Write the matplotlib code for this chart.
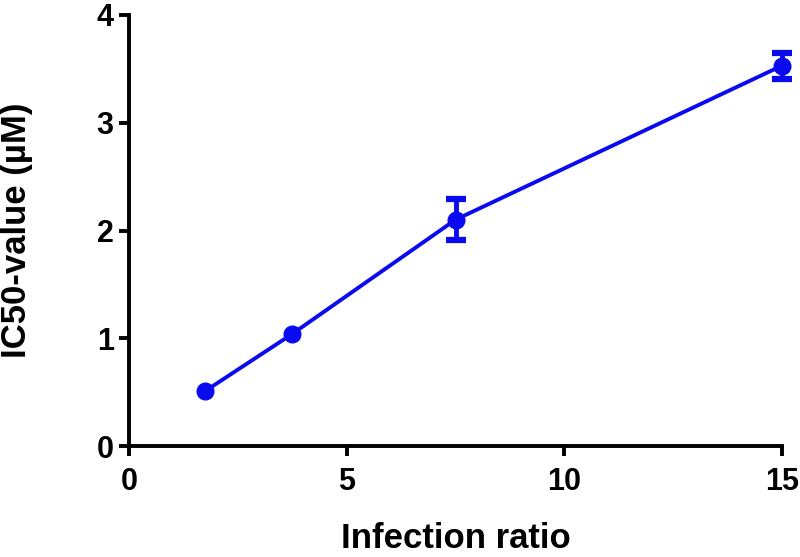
import matplotlib
matplotlib.use("Agg")
import matplotlib.pyplot as plt

infection_ratio = [1.75, 3.75, 7.5, 15]
ic50 = [0.51, 1.04, 2.10, 3.53]
ic50_err = [0.0, 0.0, 0.19, 0.12]
x_ticks = [0, 5, 10, 15]
y_ticks = [0, 1, 2, 3, 4]

plt.rcParams['font.family'] = ['Liberation Sans', 'DejaVu Sans']
fig = plt.figure(figsize=(8, 5.57), dpi=100)
ax = fig.add_axes([129/800, 111/557, (782-129)/800, (446-15)/557])

color = '#0a0af0'
ax.plot(infection_ratio, ic50, color=color, lw=2.8, marker='o', ms=12,
        clip_on=False, zorder=3)
ex = [x for x, e in zip(infection_ratio, ic50_err) if e > 0]
ey = [y for y, e in zip(ic50, ic50_err) if e > 0]
ee = [e for e in ic50_err if e > 0]
ax.errorbar(ex, ey, yerr=ee, fmt='none', ecolor=color, capsize=7,
            capthick=4.5, elinewidth=3.5, clip_on=False, zorder=3)

ax.set_xlim(0, 15)
ax.set_ylim(0, 4)
ax.set_xticks(x_ticks)
ax.set_yticks(y_ticks)
for s in ['top', 'right']:
    ax.spines[s].set_visible(False)
for s in ['left', 'bottom']:
    ax.spines[s].set_linewidth(2.8)
ax.tick_params(direction='out', length=7, width=2.8, labelsize=22, pad=4)
ax.tick_params(axis='x', pad=8)
for lab in ax.get_xticklabels() + ax.get_yticklabels():
    lab.set_fontweight('bold')
ax.set_xlabel('Infection ratio', fontsize=25, fontweight='bold')
ax.xaxis.label.set_va('bottom')
ax.xaxis.set_label_coords(0.5, -(555 - 446) / 431)
ax.set_ylabel('IC50-value (µM)', fontsize=25, fontweight='bold', labelpad=46)

fig.savefig('out.png', dpi=100)
